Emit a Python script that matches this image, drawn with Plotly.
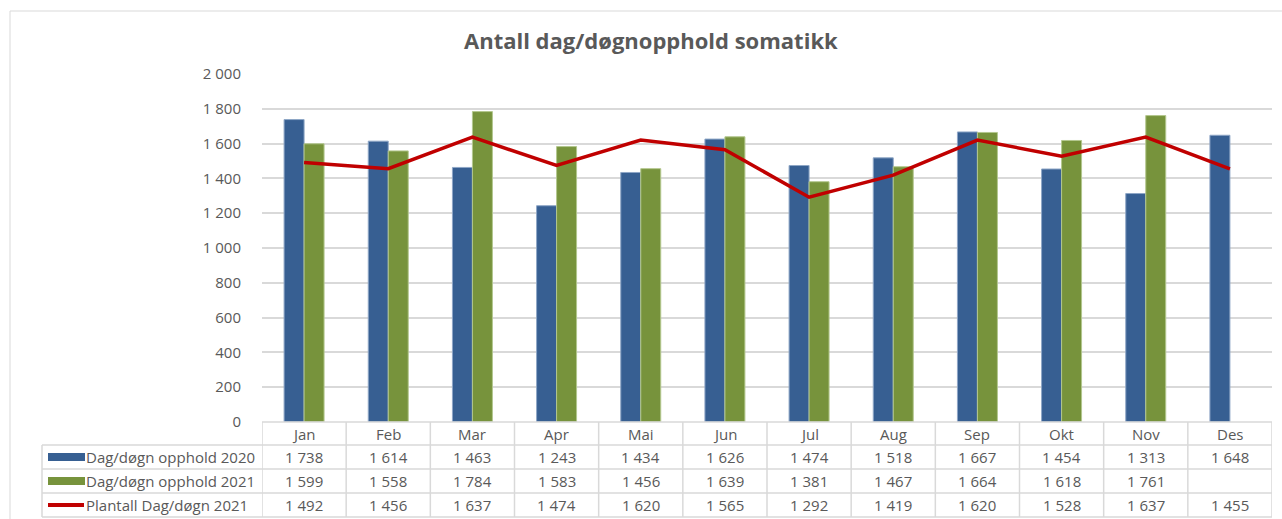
import plotly.graph_objects as go

months = ["Jan", "Feb", "Mar", "Apr", "Mai", "Jun", "Jul", "Aug", "Sep", "Okt", "Nov", "Des"]
opphold_2020 = [1738, 1614, 1463, 1243, 1434, 1626, 1474, 1518, 1667, 1454, 1313, 1648]
opphold_2021 = [1599, 1558, 1784, 1583, 1456, 1639, 1381, 1467, 1664, 1618, 1761, None]
plantall_2021 = [1492, 1456, 1637, 1474, 1620, 1565, 1292, 1419, 1620, 1528, 1637, 1455]
series_names = ["Dag/døgn opphold 2020", "Dag/døgn opphold 2021", "Plantall Dag/døgn 2021"]
y_ticks = [0, 200, 400, 600, 800, 1000, 1200, 1400, 1600, 1800, 2000]

BLUE = "#375F92"
GREEN = "#77933C"
RED = "#C00000"
GRID = "#D9D9D9"
TXT = "#595959"
FONT = "'Open Sans', sans-serif"
FS = 15

W, H = 1282, 519
L, R, T, B = 262, 10, 74, 97
PW = W - L - R
PH = H - T - B


def px_x(px):
    return (px - L) / PW


def px_y(py):
    return (H - B - py) / PH


def fmt(v):
    return "" if v is None else f"{v:,}".replace(",", " ")


fig = go.Figure()
fig.add_trace(go.Bar(x=months, y=opphold_2020, name=series_names[0],
                     marker=dict(color=BLUE, line=dict(color="#8EA6C6", width=1))))
fig.add_trace(go.Bar(x=months, y=opphold_2021, name=series_names[1],
                     marker=dict(color=GREEN, line=dict(color="#B3C78E", width=1))))
fig.add_trace(go.Scatter(x=months, y=plantall_2021, name=series_names[2], mode="lines",
                         line=dict(color=RED, width=3.5)))

shapes = []
annotations = []

# outer chart border
shapes.append(dict(type="rect", xref="paper", yref="paper",
                   x0=px_x(10), x1=px_x(1295), y0=px_y(530), y1=px_y(11),
                   line=dict(color=GRID, width=1), layer="below"))

# table grid
row_lines = [422, 445, 469, 493, 517]
for i, ry in enumerate(row_lines):
    x0 = px_x(262) if i == 0 else px_x(42)
    shapes.append(dict(type="line", xref="paper", yref="paper",
                       x0=x0, x1=1, y0=px_y(ry), y1=px_y(ry),
                       line=dict(color=GRID, width=1.5)))
shapes.append(dict(type="line", xref="paper", yref="paper",
                   x0=px_x(42), x1=px_x(42), y0=px_y(445), y1=px_y(517),
                   line=dict(color=GRID, width=1.5)))
for k in range(len(months) + 1):
    shapes.append(dict(type="line", xref="x", yref="paper",
                       x0=k - 0.5, x1=k - 0.5, y0=px_y(422), y1=px_y(517),
                       line=dict(color=GRID, width=1.5)))

# header months
for m in months:
    annotations.append(dict(x=m, xref="x", y=px_y(433.5), yref="paper", text=m,
                            xanchor="center", yanchor="middle",
                            showarrow=False, font=dict(size=FS, color=TXT, family=FONT)))

rows = [opphold_2020, opphold_2021, plantall_2021]
row_centers = [457, 481, 505]
for vals, name, cy, col in zip(rows, series_names, row_centers, [BLUE, GREEN, RED]):
    for m, v in zip(months, vals):
        annotations.append(dict(x=m, xref="x", y=px_y(cy), yref="paper", text=fmt(v),
                                xanchor="center", yanchor="middle",
                                showarrow=False, font=dict(size=FS, color=TXT, family=FONT)))
    annotations.append(dict(x=px_x(84), xref="paper", y=px_y(cy), yref="paper", text=name,
                            xanchor="left", yanchor="middle", showarrow=False,
                            font=dict(size=FS, color=TXT, family=FONT)))
    if col == RED:
        shapes.append(dict(type="line", xref="paper", yref="paper",
                           x0=px_x(48), x1=px_x(84), y0=px_y(cy), y1=px_y(cy),
                           line=dict(color=RED, width=4)))
    else:
        shapes.append(dict(type="rect", xref="paper", yref="paper",
                           x0=px_x(48), x1=px_x(85), y0=px_y(cy + 4), y1=px_y(cy - 4),
                           fillcolor=col, line=dict(width=0)))

# title
annotations.append(dict(x=px_x(651), xref="paper", y=px_y(40), yref="paper",
                        xanchor="center", yanchor="middle",
                        text="<b>Antall dag/døgnopphold somatikk</b>", showarrow=False,
                        font=dict(size=22, color=TXT, family=FONT)))

fig.update_layout(
    width=W, height=H,
    margin=dict(l=L, r=R, t=T, b=B, pad=0),
    paper_bgcolor="white", plot_bgcolor="white",
    barmode="group", bargap=0.525, bargroupgap=0,
    showlegend=False,
    separators=", ",
    shapes=shapes, annotations=annotations,
    font=dict(family=FONT, color=TXT),
)
fig.update_xaxes(type="category", range=[-0.5, 11.5], showticklabels=False,
                 showgrid=False, zeroline=False, showline=False, ticks="")
fig.update_yaxes(range=[0, 2000], tickvals=y_ticks, tickformat=",d",
                 showgrid=True, gridcolor=GRID, gridwidth=1.5, zeroline=False,
                 showline=False, ticks="outside", ticklen=17, tickcolor="rgba(0,0,0,0)",
                 tickfont=dict(size=FS, color=TXT, family=FONT))

fig.write_html("out.html", config={"displayModeBar": False},
               post_script="document.body.style.margin='0px';")
